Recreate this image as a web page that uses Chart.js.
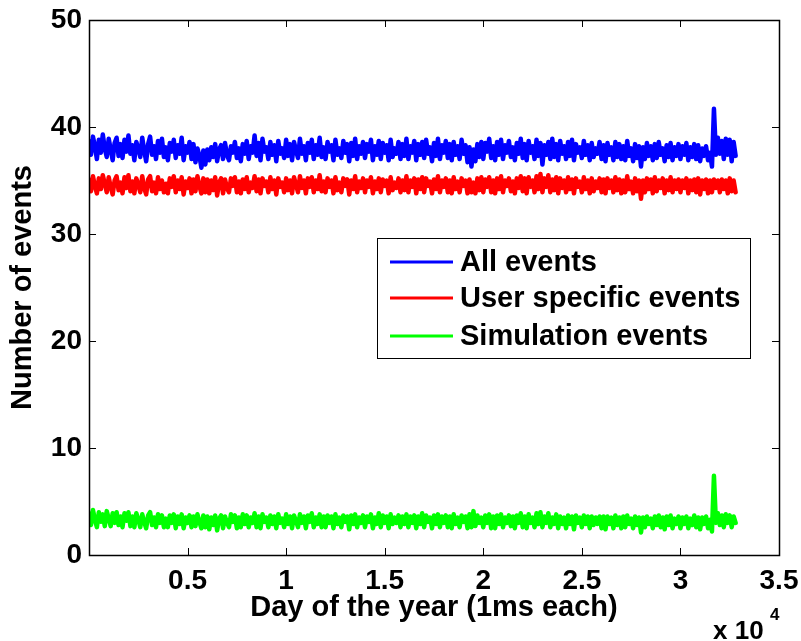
<!DOCTYPE html>
<html>
<head>
<meta charset="utf-8">
<title>Number of events</title>
<script src="https://cdn.jsdelivr.net/npm/chart.js@4.4.1/dist/chart.umd.min.js"></script>
<style>
  html, body { margin: 0; padding: 0; background: #fff; }
  #wrap { width: 801px; height: 641px; }
</style>
</head>
<body>
<div id="wrap"><canvas id="eventsChart" width="801" height="641"></canvas></div>
<script>
// ─── Data ──────────────────────────────────────────
// one sample every 100 ms, starting at 0
const SAMPLE_STEP = 100;

const allEvents = [
  38.7, 37.4, 39.1, 38.2, 37.0, 38.8, 37.6, 39.3, 38.0, 37.2, 38.9, 37.9, 36.9, 38.5, 39.0, 37.3, 38.4, 37.1, 38.8, 37.7,
  39.2, 37.5, 38.3, 36.9, 38.6, 38.0, 37.2, 39.0, 37.8, 36.8, 38.4, 39.1, 37.4, 38.2, 37.0, 38.7, 37.6, 38.9, 37.2, 38.1,
  36.9, 38.5, 37.7, 38.8, 37.1, 38.3, 37.5, 39.0, 36.9, 38.2, 37.6, 38.6, 37.0, 38.4, 36.7, 38.0, 37.3, 36.2, 37.8, 36.5,
  37.9, 36.9, 38.1, 37.2, 38.4, 36.8, 37.9, 38.3, 37.0, 38.5, 37.4, 36.9, 38.2, 37.6, 38.6, 37.1, 38.0, 36.8, 38.4, 37.5,
  38.7, 37.0, 38.2, 37.6, 39.2, 37.3, 38.5, 36.9, 38.9, 37.7, 38.1, 37.0, 38.6, 37.4, 38.3, 36.8, 38.7, 37.5, 38.0, 37.1,
  38.8, 37.3, 38.4, 36.9, 38.6, 37.8, 37.1, 38.9, 37.5, 38.2, 36.9, 38.5, 37.6, 38.8, 37.0, 38.3, 37.4, 39.0, 37.2, 38.1,
  37.0, 38.6, 37.7, 38.3, 36.9, 38.8, 37.4, 38.0, 37.1, 38.7, 37.6, 38.4, 36.8, 38.5, 37.3, 38.9, 37.0, 38.2, 37.5, 38.6,
  37.1, 38.4, 37.7, 38.8, 36.9, 38.2, 37.4, 38.7, 37.0, 38.5, 37.6, 38.3, 36.9, 38.8, 37.2, 38.0, 37.5, 38.6, 37.0, 38.4,
  37.3, 38.9, 37.0, 38.2, 37.6, 38.7, 36.9, 38.4, 37.4, 38.6, 37.1, 38.8, 37.5, 38.1, 36.8, 38.5, 37.3, 38.9, 37.0, 38.3,
  37.6, 38.7, 37.1, 38.4, 36.9, 38.6, 37.4, 38.2, 37.0, 38.8, 37.5, 38.3, 36.7, 38.1, 36.3, 37.9, 36.8, 38.4, 37.2, 38.6,
  37.0, 38.5, 37.7, 38.9, 37.1, 38.2, 36.9, 38.6, 37.4, 38.8, 37.0, 38.3, 37.6, 38.7, 37.2, 38.1, 36.9, 38.5, 37.5, 38.9,
  37.1, 38.4, 36.9, 38.7, 37.6, 38.2, 37.0, 38.8, 37.3, 38.5, 36.5, 38.3, 37.4, 38.6, 37.0, 38.9, 37.2, 38.4, 36.9, 38.7,
  37.5, 38.2, 37.0, 38.6, 37.3, 38.8, 36.9, 38.4, 37.6, 38.1, 37.1, 38.7, 37.4, 38.3, 36.9, 38.5, 37.2, 38.0, 37.5, 38.6,
  37.0, 38.3, 36.8, 38.5, 37.4, 38.1, 36.9, 38.6, 37.2, 38.4, 37.0, 38.2, 36.9, 38.7, 37.3, 38.0, 36.8, 38.4, 37.1, 38.2,
  36.3, 38.1, 37.0, 38.5, 37.3, 38.2, 36.9, 38.4, 37.1, 38.6, 37.4, 38.0, 36.8, 38.3, 37.2, 38.5, 36.9, 38.1, 37.3, 38.4,
  37.0, 38.2, 37.4, 38.5, 36.9, 38.1, 37.2, 38.4, 37.0, 38.3, 36.8, 38.0, 37.3, 38.2, 36.9, 37.6, 36.3, 41.7, 37.4, 39.0,
  37.5, 38.7, 37.0, 38.9, 37.4, 38.8, 36.8, 38.6, 37.3
];

const userEvents = [
  35.1, 34.0, 35.4, 34.5, 33.8, 35.2, 34.2, 35.5, 34.7, 33.9, 35.3, 34.4, 33.7, 35.0, 35.4, 34.1, 34.8, 33.8, 35.3, 34.3,
  35.5, 34.0, 34.9, 33.8, 35.2, 34.6, 33.9, 35.4, 34.3, 33.7, 35.1, 35.4, 34.0, 34.8, 33.8, 35.3, 34.2, 35.0, 33.9, 34.7,
  33.8, 35.2, 34.4, 35.4, 33.9, 35.0, 34.2, 35.3, 33.7, 34.9, 34.3, 35.2, 33.8, 35.1, 34.0, 35.4, 34.5, 33.8, 35.2, 33.9,
  35.1, 33.8, 35.0, 34.1, 35.3, 33.6, 34.8, 35.2, 33.8, 35.1, 34.3, 33.9, 35.2, 34.5, 35.3, 33.9, 34.9, 33.8, 35.1, 34.2,
  35.3, 33.9, 34.8, 34.3, 35.4, 34.0, 35.1, 33.8, 35.2, 34.5, 34.9, 33.9, 35.3, 34.2, 35.0, 33.7, 35.2, 34.4, 34.8, 33.9,
  35.2, 34.1, 35.0, 33.8, 35.3, 34.6, 33.9, 35.4, 34.3, 35.0, 33.8, 35.2, 34.4, 35.3, 33.9, 35.0, 34.2, 35.5, 34.0, 34.9,
  33.9, 35.2, 34.4, 35.0, 33.8, 35.3, 34.1, 34.8, 33.9, 35.2, 34.5, 35.1, 33.7, 35.0, 34.2, 35.4, 33.9, 34.9, 34.3, 35.2,
  33.9, 35.0, 34.4, 35.3, 33.8, 34.9, 34.2, 35.2, 33.9, 35.1, 34.5, 35.0, 33.8, 35.3, 34.1, 34.8, 34.3, 35.2, 33.9, 35.0,
  34.1, 35.4, 33.9, 35.0, 34.4, 35.2, 33.8, 35.1, 34.2, 35.3, 33.9, 35.2, 34.5, 34.9, 33.8, 35.1, 34.2, 35.4, 33.9, 35.0,
  34.4, 35.2, 33.9, 35.0, 33.8, 35.3, 34.2, 34.9, 33.9, 35.2, 34.5, 35.0, 33.8, 35.1, 33.9, 34.8, 33.8, 35.2, 34.1, 35.3,
  33.9, 35.1, 34.4, 35.3, 33.9, 35.0, 33.8, 35.2, 34.2, 35.4, 33.9, 35.0, 34.5, 35.2, 34.0, 34.9, 33.8, 35.2, 34.3, 35.4,
  34.0, 35.2, 33.8, 35.3, 34.4, 35.0, 33.9, 35.4, 34.2, 35.6, 33.9, 35.2, 34.4, 35.5, 33.9, 35.1, 34.1, 35.3, 33.8, 35.2,
  34.3, 35.0, 33.9, 35.3, 34.2, 35.1, 33.8, 35.2, 34.4, 34.9, 33.9, 35.3, 34.2, 35.0, 33.8, 35.2, 34.0, 34.9, 34.3, 35.2,
  33.9, 35.1, 33.8, 35.2, 34.3, 35.0, 33.9, 35.3, 34.1, 35.1, 33.8, 35.0, 33.9, 35.4, 34.2, 34.9, 33.8, 35.2, 34.0, 35.0,
  33.3, 35.0, 33.9, 35.2, 34.2, 35.1, 33.8, 35.3, 34.0, 35.0, 34.3, 35.2, 33.8, 35.0, 34.1, 35.3, 33.9, 35.0, 34.2, 35.1,
  33.9, 35.0, 34.3, 35.2, 33.8, 35.0, 34.1, 35.1, 33.9, 35.2, 33.7, 35.0, 34.2, 35.1, 33.8, 35.0, 33.9, 35.1, 34.3, 35.0,
  33.9, 35.1, 34.2, 35.0, 33.8, 35.2, 34.0, 35.0, 33.9
];

const simEvents = [
  3.9, 2.8, 4.2, 3.3, 2.6, 4.0, 3.1, 3.8, 2.7, 4.1, 3.4, 2.7, 3.9, 3.0, 4.0, 2.8, 3.6, 2.6, 3.9, 3.2,
  4.0, 2.7, 3.6, 2.6, 3.9, 3.3, 2.6, 3.8, 3.1, 2.5, 3.7, 4.0, 2.8, 3.5, 2.6, 3.8, 3.0, 3.7, 2.6, 3.4,
  2.6, 3.7, 3.0, 3.8, 2.5, 3.6, 2.9, 3.8, 2.5, 3.5, 3.0, 3.7, 2.6, 3.6, 2.7, 3.8, 3.1, 2.5, 3.7, 2.6,
  3.6, 2.4, 3.5, 2.8, 3.7, 2.3, 3.4, 3.7, 2.5, 3.6, 3.0, 2.6, 3.8, 3.1, 3.7, 2.5, 3.5, 2.6, 3.8, 2.9,
  3.7, 2.6, 3.5, 3.0, 3.9, 2.6, 3.6, 2.5, 3.8, 3.1, 3.5, 2.6, 3.7, 2.9, 3.6, 2.5, 3.8, 3.0, 3.4, 2.6,
  3.8, 2.9, 3.6, 2.5, 3.7, 3.2, 2.6, 3.8, 3.0, 3.6, 2.5, 3.7, 3.1, 3.9, 2.6, 3.5, 2.9, 3.8, 2.6, 3.6,
  2.6, 3.7, 3.0, 3.6, 2.5, 3.8, 2.9, 3.5, 2.6, 3.7, 3.1, 3.6, 2.4, 3.7, 2.9, 3.8, 2.6, 3.5, 3.0, 3.7,
  2.6, 3.6, 3.1, 3.8, 2.5, 3.5, 2.9, 3.9, 2.6, 3.7, 3.0, 3.6, 2.5, 3.8, 2.9, 3.5, 3.0, 3.7, 2.6, 3.6,
  2.9, 3.8, 2.6, 3.6, 3.0, 3.7, 2.5, 3.6, 2.9, 3.9, 2.6, 3.7, 3.1, 3.5, 2.5, 3.7, 2.9, 3.8, 2.6, 3.6,
  3.0, 3.7, 2.6, 3.6, 2.5, 3.8, 2.9, 3.5, 2.6, 3.7, 3.1, 3.6, 2.5, 3.8, 2.6, 4.1, 2.7, 3.7, 3.0, 3.5,
  2.6, 3.7, 3.0, 3.8, 2.5, 3.6, 2.5, 3.7, 2.9, 3.8, 2.6, 3.5, 3.0, 3.7, 2.7, 3.6, 2.5, 3.7, 3.0, 3.9,
  2.6, 3.6, 2.5, 3.8, 3.0, 3.5, 2.6, 3.9, 2.9, 4.0, 2.6, 3.6, 3.0, 3.9, 2.6, 3.5, 2.9, 3.8, 2.5, 3.6,
  2.9, 3.5, 2.5, 3.7, 2.9, 3.6, 2.4, 3.7, 3.0, 3.5, 2.6, 3.7, 2.9, 3.6, 2.5, 3.6, 2.8, 3.5, 2.9, 3.6,
  2.5, 3.6, 2.4, 3.6, 2.9, 3.5, 2.5, 3.7, 2.8, 3.5, 2.5, 3.6, 2.6, 3.7, 2.9, 3.4, 2.5, 3.6, 2.8, 3.5,
  2.1, 3.5, 2.6, 3.6, 2.9, 3.4, 2.5, 3.6, 2.8, 3.7, 2.6, 3.5, 2.4, 3.6, 2.8, 3.7, 2.5, 3.4, 2.9, 3.6,
  2.5, 3.5, 2.9, 3.6, 2.5, 3.4, 2.8, 3.7, 2.6, 3.5, 2.4, 3.5, 2.9, 3.6, 2.5, 3.3, 2.2, 7.4, 3.0, 3.9,
  2.8, 3.7, 2.6, 3.8, 3.0, 3.7, 2.6, 3.6, 3.0
];

const seriesNames  = ['All events', 'User specific events', 'Simulation events'];
const seriesColors = ['#0000ff', '#ff0000', '#00ff00'];

const xTicks = [0, 5000, 10000, 15000, 20000, 25000, 30000, 35000];
const yTicks = [0, 10, 20, 30, 40, 50];

const FONT = '"Liberation Sans", Arial, Helvetica, sans-serif';

// ─── Helpers ───────────────────────────────────────
function toPoints(values) {
  return values.map((v, i) => ({ x: i * SAMPLE_STEP, y: v }));
}

// box round the plot, ticks pointing inward on all four sides
const boxTicks = {
  id: 'boxTicks',
  afterDatasetsDraw(chart) {
    const { ctx, chartArea: a, scales: { x, y } } = chart;
    const len = 7;
    ctx.save();
    ctx.strokeStyle = '#000';
    ctx.lineWidth = 1;
    ctx.beginPath();
    xTicks.forEach(v => {
      const px = Math.round(x.getPixelForValue(v)) + 0.5;
      ctx.moveTo(px, a.bottom); ctx.lineTo(px, a.bottom - len);
      ctx.moveTo(px, a.top);    ctx.lineTo(px, a.top + len);
    });
    yTicks.forEach(v => {
      const py = Math.round(y.getPixelForValue(v)) + 0.5;
      ctx.moveTo(a.left, py);  ctx.lineTo(a.left + len, py);
      ctx.moveTo(a.right, py); ctx.lineTo(a.right - len, py);
    });
    ctx.stroke();
    ctx.lineWidth = 1.5;
    ctx.strokeRect(Math.round(a.left) + 0.5, Math.round(a.top) + 0.5,
                   Math.round(a.right - a.left), Math.round(a.bottom - a.top));
    ctx.restore();
  }
};

// legend box inside the plot plus the x10^4 exponent under the axis
const extras = {
  id: 'extras',
  afterDraw(chart) {
    const { ctx } = chart;
    ctx.save();

    // legend
    const bx = 377, by = 238, bw = 373, bh = 120;
    ctx.fillStyle = '#fff';
    ctx.fillRect(bx, by, bw, bh);
    ctx.strokeStyle = '#000';
    ctx.lineWidth = 1;
    ctx.strokeRect(bx + 0.5, by + 0.5, bw, bh);
    const rows = [262, 298, 336];
    ctx.font = 'bold 29px ' + FONT;
    ctx.textBaseline = 'middle';
    ctx.textAlign = 'left';
    seriesNames.forEach((name, i) => {
      ctx.strokeStyle = seriesColors[i];
      ctx.lineWidth = 3;
      ctx.beginPath();
      ctx.moveTo(390, rows[i]);
      ctx.lineTo(453, rows[i]);
      ctx.stroke();
      ctx.fillStyle = '#000';
      ctx.fillText(name, 460, rows[i] + 1);
    });

    // axis multiplier
    ctx.fillStyle = '#000';
    ctx.textBaseline = 'alphabetic';
    ctx.font = 'bold 26px ' + FONT;
    ctx.fillText('x 10', 713, 639);
    ctx.font = 'bold 17px ' + FONT;
    ctx.fillText('4', 770, 620);
    ctx.restore();
  }
};

// ─── Chart ─────────────────────────────────────────
const datasets = [allEvents, userEvents, simEvents].map((vals, i) => ({
  label: seriesNames[i],
  data: toPoints(vals),
  borderColor: seriesColors[i],
  backgroundColor: seriesColors[i],
  borderWidth: 4.5,
  pointRadius: 0,
  tension: 0,
  borderJoinStyle: 'round',
  borderCapStyle: 'round'
}));

new Chart(document.getElementById('eventsChart'), {
  type: 'line',
  data: { datasets },
  options: {
    responsive: false,
    animation: false,
    devicePixelRatio: 1,
    layout: { padding: { top: 20, right: 22, left: 0, bottom: 0 } },
    plugins: {
      legend: { display: false },
      tooltip: { enabled: false }
    },
    scales: {
      x: {
        type: 'linear',
        min: 0, max: 35000,
        afterBuildTicks: s => { s.ticks = xTicks.map(v => ({ value: v })); },
        afterFit: s => { s.height = 86; s.paddingLeft = 0; s.paddingRight = 0; },
        grid: { display: false, drawTicks: false },
        border: { display: false },
        ticks: {
          padding: 9,
          maxRotation: 0,
          autoSkip: false,
          color: '#000',
          font: { family: FONT, size: 28, weight: 'bold' },
          callback: v => v === 0 ? '' : String(v / 10000)
        },
        title: {
          display: true,
          text: 'Day of the year (1ms each)',
          color: '#000',
          font: { family: FONT, size: 29, weight: 'bold' },
          padding: { top: 0, bottom: 16 }
        }
      },
      y: {
        min: 0, max: 50,
        afterBuildTicks: s => { s.ticks = yTicks.map(v => ({ value: v })); },
        afterFit: s => { s.width = 89; s.paddingTop = 0; s.paddingBottom = 0; },
        grid: { display: false, drawTicks: false },
        border: { display: false },
        ticks: {
          padding: 7,
          color: '#000',
          font: { family: FONT, size: 28, weight: 'bold' }
        },
        title: {
          display: true,
          text: 'Number of events',
          color: '#000',
          font: { family: FONT, size: 29, weight: 'bold' },
          padding: { top: 6, bottom: 0 }
        }
      }
    }
  },
  plugins: [boxTicks, extras]
});
</script>
</body>
</html>
